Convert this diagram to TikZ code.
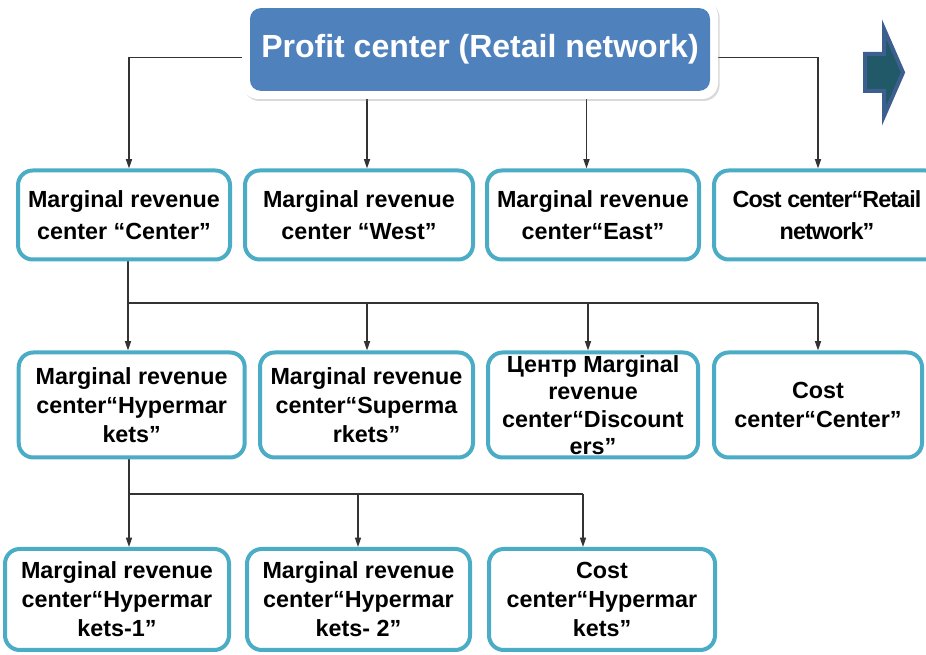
\documentclass[tikz,border=0pt]{standalone}
\usepackage{fontspec}
\setmainfont{Liberation Sans}
\usetikzlibrary{arrows.meta,backgrounds,shadows}
\definecolor{azul}{HTML}{4F81BD}
\definecolor{turq}{HTML}{4BACC6}
\definecolor{traco}{HTML}{333333}
\definecolor{setaMiolo}{HTML}{215968}
\definecolor{setaBorda}{HTML}{3C5F8F}
\tikzset{
  moldura/.style={rectangle, rounded corners=12pt, fill=white,
                  minimum width=357pt, minimum height=74.25pt,
                  drop shadow={shadow xshift=1.2pt, shadow yshift=-1.5pt, opacity=.3}},
  topo/.style={rectangle, rounded corners=8pt, fill=azul, text=white,
               minimum width=345pt, minimum height=62pt,
               font=\bfseries\fontsize{24}{28}\selectfont},
  cr/.style={rectangle, rounded corners=11pt, draw=turq, line width=3pt,
             fill=white, align=center, inner sep=1pt,
             font=\bfseries\fontsize{17.5}{21.75}\selectfont},
  linha1/.style={cr, minimum height=66.75pt, font=\bfseries\fontsize{17.5}{24.5}\selectfont},
  linha2/.style={cr, minimum height=78.75pt},
  linha3/.style={cr, minimum height=75.75pt},
  liga/.style={traco, line width=1.1pt},
  seta/.style={liga, -{Triangle[length=7pt, width=4.5pt]}},
  bloco/.style={fill=setaMiolo, draw=setaBorda, line width=3pt, line join=miter},
}

\begin{document}
\begin{tikzpicture}[x=0.75pt,y=-0.75pt]
    \useasboundingbox (0,0) rectangle (926,655);

    %% ---------- centro de lucro ----------
    \node[moldura] (moldura) at (480,49.5) {};
    \node[topo] (lucro) at (moldura) {Profit center (Retail network)};

    %% seta de bloco a direita
    \draw[bloco] (865,54) -- (884,54) -- (884,29) -- (903,72.5) -- (884,116)
                 -- (884,91) -- (865,91) -- cycle;

    %% ---------- nivel 1 ----------
    \node[linha1, minimum width=159pt]   (mrCentro) at (124,215) {Marginal revenue\\center “Center”};
    \node[linha1, minimum width=171pt]   (mrOeste)  at (359,215) {Marginal revenue\\center “West”};
    \node[linha1, minimum width=159pt]   (mrLeste)  at (593,215) {Marginal revenue\\center“East”};
    \node[linha1, minimum width=169.5pt] (ccRede)   at (827,215)
         {\addfontfeature{LetterSpace=-4}Cost center“Retail\\\addfontfeature{LetterSpace=-4}network”};

    %% ---------- nivel 2 ----------
    \node[linha2, minimum width=169.5pt] (mrHiper)  at (131.7,405) {Marginal revenue\\center“Hypermar\\kets”};
    \node[linha2, minimum width=159.75pt] (mrSuper) at (366.5,405) {Marginal revenue\\center“Superma\\rkets”};
    \node[linha2, minimum width=157.5pt, font=\bfseries\fontsize{17.5}{20.6}\selectfont]
         (mrDesc) at (593,405) {Центр Marginal\\revenue\\center“Discount\\ers”};
    \node[linha2, minimum width=156pt]   (ccCentro) at (818,405) {Cost\\center“Center”};

    %% ---------- nivel 3 ----------
    \node[linha3, minimum width=168pt]    (mrH1)    at (117,599.5) {Marginal revenue\\center“Hypermar\\kets-1”};
    \node[linha3, minimum width=167.25pt] (mrH2)    at (358.5,599.5) {Marginal revenue\\center“Hypermar\\kets- 2”};
    \node[linha3, minimum width=169.5pt]  (ccHiper) at (602,599.5) {Cost\\center“Hypermar\\kets”};

    %% pontos de descida dos barramentos
    \coordinate (t1) at (129,57.5);  \coordinate (t2) at (367,57.5);
    \coordinate (t3) at (586.5,57.5); \coordinate (t4) at (818,57.5);
    \coordinate (b1) at (128,303);   \coordinate (b2) at (367,303);
    \coordinate (b3) at (588,303);   \coordinate (b4) at (818,303);
    \coordinate (c1) at (129,494);   \coordinate (c2) at (358,494);
    \coordinate (c3) at (583,494);

    %% ---------- ligacoes (atras das caixas) ----------
    \begin{scope}[on background layer]
      \draw[seta] (moldura.west |- t1) -- (t1) -- (t1 |- mrCentro.north);
      \draw[seta] (moldura.east |- t4) -- (t4) -- (t4 |- ccRede.north);
      \draw[seta] (moldura.south -| t2) -- (t2 |- mrOeste.north);
      \draw[seta] (moldura.south -| t3) -- (t3 |- mrLeste.north);

      \draw[liga] (mrCentro.south -| b1) -- (b1) -- (b4);
      \foreach \p/\d in {b1/mrHiper,b2/mrSuper,b3/mrDesc,b4/ccCentro}
        \draw[seta] (\p) -- (\p |- \d.north);

      \draw[liga] (mrHiper.south -| c1) -- (c1) -- (c3);
      \foreach \p/\d in {c1/mrH1,c2/mrH2,c3/ccHiper}
        \draw[seta] (\p) -- (\p |- \d.north);
    \end{scope}

\end{tikzpicture}
\end{document}
